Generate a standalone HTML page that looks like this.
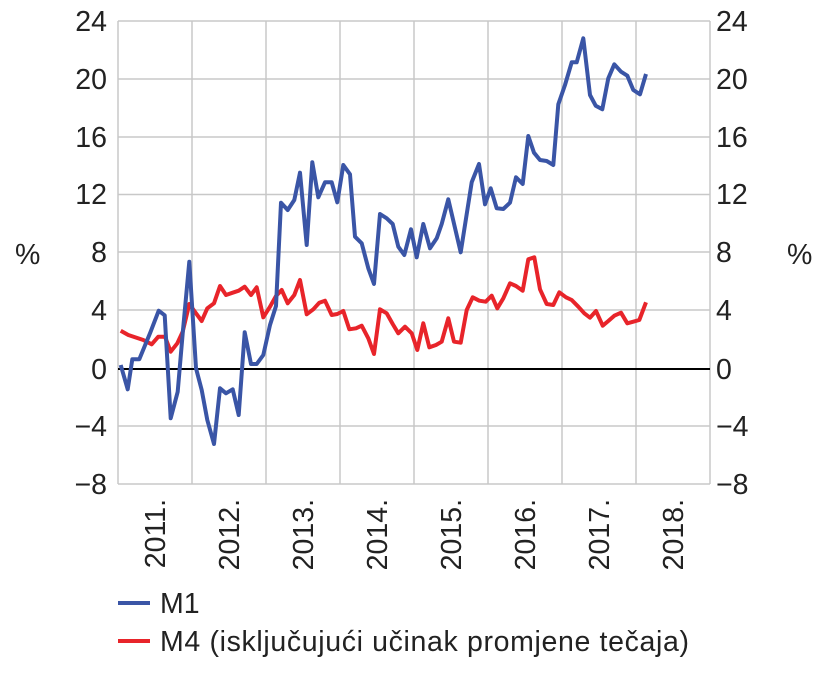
<!DOCTYPE html>
<html><head><style>body{margin:0;background:#fff}svg{display:block}text{font-family:"Liberation Sans",sans-serif;font-size:28.5px;fill:#222}</style></head><body>
<svg width="828" height="686" viewBox="0 0 828 686">
<g stroke="#c8c8c8" stroke-width="1.5" fill="none">
<path d="M118 21H710M118 79H710M118 137H710M118 194.5H710M118 252H710M118 310H710M118 426H710M118 484H710"/>
<path d="M118 21V484M192 21V484M266 21V484M340 21V484M414 21V484M488 21V484M562 21V484M636 21V484M710 21V484"/>
</g>
<path d="M118 369H710" stroke="#000" stroke-width="2"/>
<g text-anchor="end"><text x="107" y="31">24</text><text x="107" y="89">20</text><text x="107" y="147">16</text><text x="107" y="204">12</text><text x="107" y="262">8</text><text x="107" y="320">4</text><text x="107" y="379">0</text><text x="107" y="436">−4</text><text x="107" y="494">−8</text></g>
<g text-anchor="start"><text x="716" y="31">24</text><text x="716" y="89">20</text><text x="716" y="147">16</text><text x="716" y="204">12</text><text x="716" y="262">8</text><text x="716" y="320">4</text><text x="716" y="379">0</text><text x="716" y="436">−4</text><text x="716" y="494">−8</text></g>
<text x="15" y="264">%</text><text x="787" y="264">%</text>
<g text-anchor="end">
<text transform="translate(165,499) rotate(-90)">2011.</text>
<text transform="translate(239,499) rotate(-90)">2012.</text>
<text transform="translate(313,499) rotate(-90)">2013.</text>
<text transform="translate(387,499) rotate(-90)">2014.</text>
<text transform="translate(461,499) rotate(-90)">2015.</text>
<text transform="translate(535,499) rotate(-90)">2016.</text>
<text transform="translate(609,499) rotate(-90)">2017.</text>
<text transform="translate(683,499) rotate(-90)">2018.</text>
</g>
<polyline fill="none" stroke="#e8242a" stroke-width="4" stroke-linejoin="round" points="120.7,330.7 128.3,335 143.3,340 151.7,344.3 158.3,336.7 165,336.7 170.7,351.7 177.3,343.3 182.7,331.7 189.3,304 196,313.3 201.7,321 207.3,308.3 214,303.3 220,286 226,295 232.7,292.7 238.7,290.7 244.7,286.7 251,295 256.7,287.3 263.3,317.3 270,306.7 276,296 281.7,290 287.7,303.3 294.3,295 300,280 306.7,314.3 313.3,309.3 319.3,302.7 325,300.7 331.7,315 337.3,314 343.3,311 349.3,329.3 356,328.3 361.7,325.7 368.3,338.3 374,354 380,309.3 386.7,313.3 392.7,324 398.3,333.3 405,326.7 411.7,333.3 417.3,350 423.3,323.3 429.3,347.3 436,345 441.7,341.7 448.3,318.3 454,341.7 460.7,342.7 466.7,310 472.7,297.3 479.3,300.7 485.7,301.7 491.7,295.7 497.3,308.3 503.3,298.3 510,283.3 516,286 522.7,290.7 528.3,259.3 534.3,257.3 540,289.3 546.7,304 553.3,305 559.3,292.3 566,297.3 571.7,300 578.3,306.7 584.3,313.3 590,317.7 596,311 602.7,325.7 608.3,321 614.3,315.7 621,312.7 627.3,323.3 633.3,321.7 639.3,320 646,302.3"/>
<polyline fill="none" stroke="#3a55a6" stroke-width="4" stroke-linejoin="round" points="120.7,365 127.7,389.3 132.3,359.3 139.3,359.3 150,333.3 158.7,310.7 164.7,315.3 170.7,418.3 177.7,391.7 182.7,333.3 189.3,261.7 196,368.3 201.7,390 207.3,420 214,444 220,388.3 226,393.3 232.7,389.3 238.7,415 244.7,332.3 251,364 256.7,364 263.3,355 270,325 276,306 281,202.7 287.7,210 294.3,200 300,172.7 306.7,245 312.3,162.3 318.3,197.3 325,182.3 331.7,182.3 337.3,202.3 343.3,165 350,174.3 355,236.7 361.7,243.3 368.3,268.3 374,284 380,214 386.7,218.3 392.7,224 398.3,246.7 404.3,255 411,229.3 416.7,257.3 423.3,224 430,248.3 436.7,238.3 441.7,224 448.3,199.3 460.7,252.3 471.7,182.3 479,164 485,204.3 490.7,188.3 496.7,208.3 503.3,209 510,202.7 516,177.3 522.7,184 528.3,136 534,152.7 540,160 546.7,161 553.3,165 558.3,104.3 565,85 571.7,62.3 576.7,62.3 583.3,38.3 590,95 595.7,105.7 602.3,109.3 608.3,78.3 614.3,64.3 621,71.7 627.3,75.7 633.3,90 640,94.3 646,74"/>
<path d="M118 603H150" stroke="#3a55a6" stroke-width="4"/>
<path d="M118 641H150" stroke="#e8242a" stroke-width="4"/>
<text x="160" y="613">M1</text>
<text x="160" y="651" textLength="529" lengthAdjust="spacing">M4 (isključujući učinak promjene tečaja)</text>
</svg>
</body></html>
